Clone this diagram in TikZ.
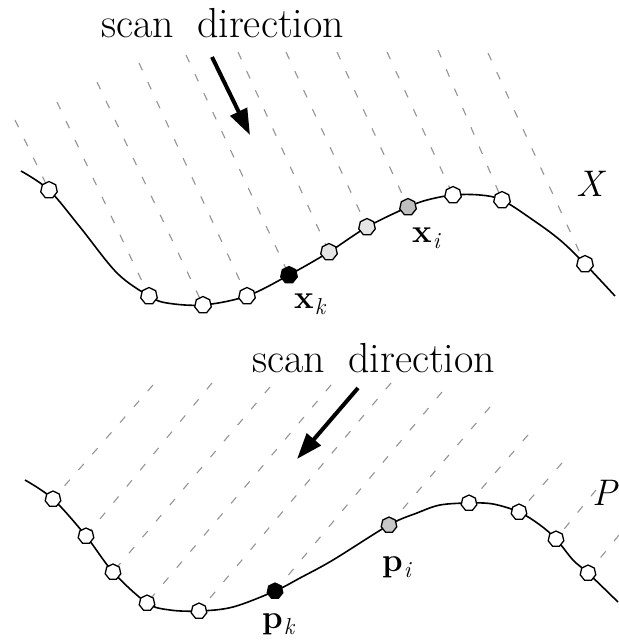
\documentclass[tikz,border=0pt]{standalone}
\usetikzlibrary{arrows.meta,shapes.geometric,backgrounds}
\newcommand\veclab[2]{{\bfseries #1}\kern0.03em\raisebox{-0.2em}{\fontsize{23}{24}\selectfont\itshape #2}}
\begin{document}
\begin{tikzpicture}[x=1pt,y=-1pt,
  smp/.style={draw,line width=1.3pt,regular polygon,regular polygon sides=7,
    minimum size=17pt,inner sep=0pt,fill=white},
  smpb/.style={smp,minimum size=16pt},
  lgt/.style={fill=black!10},
  mid/.style={fill=black!25},
  blk/.style={fill=black},
  scanline/.style={line width=1.1pt,black!42,dash pattern=on 8pt off 13pt},
  curve/.style={line width=1.6pt,black},
  bigarrow/.style={line width=4pt,-{Triangle[length=26pt,width=18pt]}},
  title/.style={font=\fontsize{42}{45}\selectfont,anchor=base west,inner sep=0pt},
  lbl/.style={font=\fontsize{33}{36}\selectfont,anchor=base west,inner sep=0pt},
  setname/.style={font=\fontsize{37}{40}\selectfont\itshape,inner sep=0pt}]
\useasboundingbox (0,0) rectangle (619,641);

% ---------- top panel ----------
\node[title] (t) at (101,37) {scan\hspace{0.55em}direction};
\coordinate (ta0) at (212,57);
\coordinate (ta1) at (250,135);
\draw[bigarrow] (ta0) -- (ta1);

\node[smp] (a1) at (49,190) {};
\node[smp] (a2) at (149,296) {};
\node[smp] (a3) at (203,305) {};
\node[smp] (a4) at (247,296) {};
\node[smp,blk] (a5) at (289,275) {};
\node[smp,lgt] (a6) at (329,252) {};
\node[smp,lgt] (a7) at (367,227) {};
\node[smp,mid] (a8) at (408,207) {};
\node[smp] (a9) at (453,195) {};
\node[smp] (a10) at (502,200) {};
\node[smp] (a11) at (585,264) {};

\coordinate (u1) at (15,120);
\coordinate (u2) at (57,102);
\coordinate (u3) at (97,82);
\coordinate (u4) at (139,63);
\coordinate (u5) at (186,55);
\coordinate (u6) at (238,52);
\coordinate (u7) at (286,52);
\coordinate (u8) at (337,52);
\coordinate (u9) at (387,52);
\coordinate (u10) at (438,50);
\coordinate (u11) at (488,53);

\node[lbl] (xk) at (294,308) {\veclab{x}{k}};
\node[lbl] (xi) at (412,242) {\veclab{x}{i}};
\node[setname] (X) at (590,184) {X};

% ---------- bottom panel ----------
\node[title] (b) at (252,372) {scan\hspace{0.55em}direction};
\coordinate (ba0) at (358,388);
\coordinate (ba1) at (297,459);
\draw[bigarrow] (ba0) -- (ba1);

\node[smpb] (b1) at (53,499) {};
\node[smpb] (b2) at (86,536) {};
\node[smpb] (b3) at (113,572) {};
\node[smpb] (b4) at (147,603) {};
\node[smpb] (b5) at (199,611) {};
\node[smpb,blk] (b6) at (275,591) {};
\node[smpb,fill=black!22] (b7) at (389,525) {};
\node[smpb] (b8) at (469,503) {};
\node[smpb] (b9) at (519,512) {};
\node[smpb] (b10) at (556,539) {};
\node[smpb] (b11) at (588,573) {};

\coordinate (v1) at (153,385);
\coordinate (v2) at (212,383);
\coordinate (v3) at (270,387);
\coordinate (v4) at (331,385);
\coordinate (v5) at (391,383);
\coordinate (v6) at (442,392);
\coordinate (v7) at (490,407);
\coordinate (v8) at (528,435);
\coordinate (v9) at (562,463);
\coordinate (v10) at (596,490);
\coordinate (v11) at (619,535);

\node[lbl] (pk) at (262,628) {\veclab{p}{k}};
\node[lbl] (pi) at (382,571) {\veclab{p}{i}};
\node[setname] (P) at (605,493) {P};

\begin{pgfonlayer}{background}
  \foreach \i in {1,...,11} {
    \draw[scanline] (u\i) -- (a\i.center);
    \draw[scanline] (v\i) -- (b\i.center);
  }
  \draw[curve] plot[smooth,tension=0.55] coordinates {(21,171) (a1.center) (80,227) (117,273)
    (a2.center) (167,303) (a3.center) (a4.center) (a5.center) (a6.center) (a7.center)
    (a8.center) (427,200) (a9.center) (480,195) (a10.center) (533,220) (560,240)
    (a11.center) (615,296)};
  \draw[curve] plot[smooth,tension=0.55] coordinates {(25,480) (b1.center) (b2.center)
    (b3.center) (b4.center) (170,610) (b5.center) (233,607) (b6.center) (300,578)
    (333,560) (b7.center) (417,513) (440,505) (b8.center) (493,504) (b9.center)
    (540,525) (b10.center) (573,560) (b11.center) (618,602)};
\end{pgfonlayer}
\end{tikzpicture}
\end{document}
